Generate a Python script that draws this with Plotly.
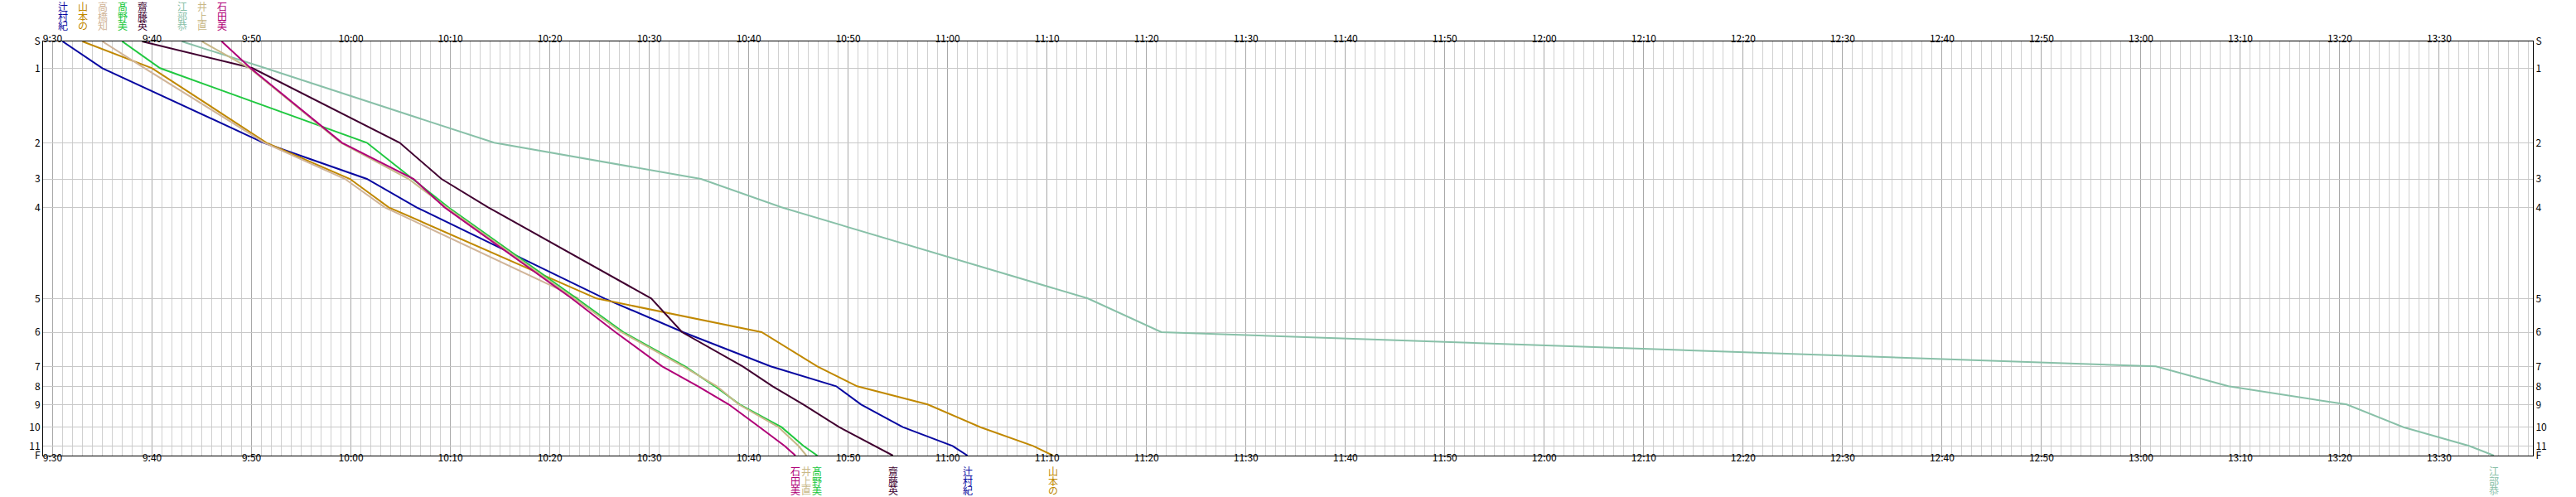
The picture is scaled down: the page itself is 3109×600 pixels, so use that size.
import plotly.graph_objects as go

# stations (course position, units ~ px of chart height) and labels
stations = ["S", "1", "2", "3", "4", "5", "6", "7", "8", "9", "10", "11", "F"]
station_pos = [0, 32.3, 122.3, 166, 200.3, 310.3, 351, 392.3, 416.3, 438.3, 465.7, 488.3, 500]

# time axis: minutes after 9:30
tick_min = [0, 10, 20, 30, 40, 50, 60, 70, 80, 90, 100, 110, 120, 130, 140, 150, 160, 170, 180, 190, 200, 210, 220, 230, 240]
tick_text = ["9:30", "9:40", "9:50", "10:00", "10:10", "10:20", "10:30", "10:40", "10:50", "11:00", "11:10", "11:20",
             "11:30", "11:40", "11:50", "12:00", "12:10", "12:20", "12:30", "12:40", "12:50", "13:00", "13:10", "13:20", "13:30"]

# runners: passing time (minutes after 9:30) at each station
names = ["辻村紀", "山本の", "高橋知", "髙野美", "齋藤英", "江部恭", "井上直", "石田美"]
colors = ["#0808A0", "#C08800", "#D0B498", "#20C840", "#400030", "#88C0A8", "#C8B888", "#B00078"]
t_tsujimura = [1, 5, 21.2, 31.6, 36.6, 55.5, 63.4, 72.2, 78.8, 81.3, 85.5, 90.5, 92.0]
t_yamamoto = [3, 10, 21.5, 29.9, 33.8, 54.7, 71.3, 76.9, 80.9, 88.0, 93.3, 98.6, 100.6]
t_takahashi = [5, 9.25, 21.3, 29.4, 33.4, 52.9]
t_takano = [7, 10.8, 31.6, 36.2, 39.8, 52.7, 57.4, 63.6, 66.6, 69.1, 73.3, 75.5, 76.9]
t_saito = [9, 20.1, 34.9, 39.1, 43.8, 60.2, 63.3, 69.4, 72.4, 75.5, 79.1, 82.7, 84.5]
t_ebe = [13, 21.4, 44.4, 65.2, 73.3, 104.1, 111.5, 211.5, 218.8, 230.7, 236.4, 243.0, 245.5]
t_inoue = [15, 19.8, 29.0, 35.8, 39.6, 52.5, 57.2, 63.4, 66.8, 69.0, 73.0, 75.0, 75.8]
t_ishida = [17, 19.9, 29.1, 36.3, 39.4, 52.2, 56.6, 61.3, 64.9, 68.0, 71.1, 73.6, 74.7]
times = [t_tsujimura, t_yamamoto, t_takahashi, t_takano, t_saito, t_ebe, t_inoue, t_ishida]
finished = [True, True, False, True, True, True, True, True]

X_RANGE = [-0.96, 249.42]
FONT = "Noto Sans CJK JP, Noto Sans, sans-serif"
TOP_SHIFTS = [42.5, 31.0, 19.5]      # px above plot top for each stacked char
BOT_SHIFTS = [-18.5, -30.0, -41.5]   # px below plot bottom for each stacked char

fig = go.Figure()
for name, col, t in zip(names, colors, times):
    fig.add_trace(go.Scatter(x=t, y=station_pos[:len(t)], mode="lines", name=name,
                             line=dict(color=col, width=2), hoverinfo="x+y+name"))
# invisible trace to anchor the mirrored axes (top / right)
fig.add_trace(go.Scatter(x=[t_tsujimura[0]], y=[0], xaxis="x2", yaxis="y2", mode="lines",
                         opacity=0, showlegend=False, hoverinfo="skip"))

for name, col, t, fin in zip(names, colors, times, finished):
    for ch, sh in zip(name, TOP_SHIFTS):
        fig.add_annotation(x=t[0], y=1.0, xref="x", yref="paper", yanchor="middle", xanchor="center",
                           text=ch, showarrow=False, yshift=sh, borderpad=0,
                           font=dict(family=FONT, size=12, color=col))
    if fin:
        for ch, sh in zip(name, BOT_SHIFTS):
            fig.add_annotation(x=t[-1], y=0.0, xref="x", yref="paper", yanchor="middle", xanchor="center",
                               text=ch, showarrow=False, yshift=sh, borderpad=0,
                               font=dict(family=FONT, size=12, color=col))

axis_font = dict(family=FONT, size=12, color="#000000")
xcommon = dict(range=X_RANGE, tickmode="array", tickvals=tick_min, ticktext=tick_text,
               tickfont=axis_font, ticks="", showline=True, linecolor="#000000", linewidth=1,
               zeroline=False, automargin=False)
fig.update_layout(
    width=3109, height=600,
    margin=dict(l=52, r=52, t=50, b=50, autoexpand=False),
    paper_bgcolor="#FFFFFF", plot_bgcolor="#FFFFFF",
    showlegend=False,
    xaxis=dict(**xcommon, side="bottom", showgrid=True, gridcolor="#A8A8A8", gridwidth=1,
               ticklabelstandoff=-8,
               minor=dict(dtick=1, tick0=0, showgrid=True, gridcolor="#D0D0D0", gridwidth=1, ticks="")),
    xaxis2=dict(**xcommon, side="top", overlaying="x", matches="x", anchor="y", showgrid=False,
                ticklabelstandoff=-7),
    yaxis=dict(range=[500, 0], tickmode="array", tickvals=station_pos, ticktext=stations,
               tickfont=axis_font, ticks="", showline=True, linecolor="#000000", linewidth=1,
               showgrid=True, gridcolor="#C8C8C8", gridwidth=1, zeroline=False, side="left",
               automargin=False),
    yaxis2=dict(range=[500, 0], tickmode="array", tickvals=station_pos, ticktext=stations,
                tickfont=axis_font, ticks="", showline=True, linecolor="#000000", linewidth=1,
                showgrid=False, zeroline=False, side="right", overlaying="y", matches="y", anchor="x",
                automargin=False),
)
fig.write_html("out.html", config={"displayModeBar": False},
               post_script="document.body.style.margin='0';document.body.style.overflow='hidden';")
